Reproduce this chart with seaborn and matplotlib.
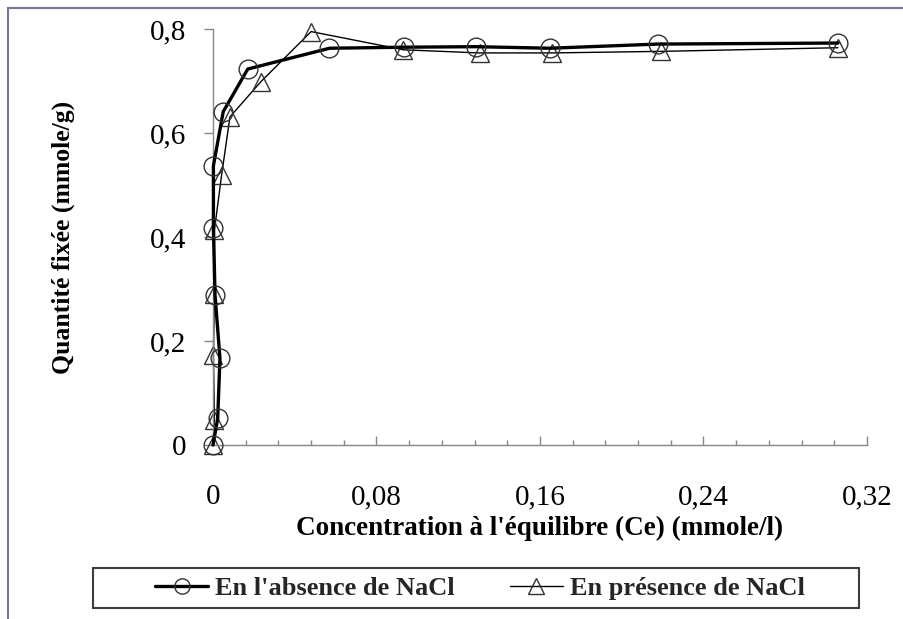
import matplotlib
matplotlib.use("Agg")
import matplotlib.pyplot as plt
from matplotlib.patches import Rectangle
from matplotlib.ticker import FixedLocator, MultipleLocator
import seaborn as sns
import pandas as pd

# Adsorption isotherm data: equilibrium concentration (mmole/l) vs fixed amount (mmole/g)
ce_absence = [0.0, 0.0023, 0.0034, 0.0010, 0.0002, 0.0002, 0.0050, 0.0170, 0.0570,
              0.0935, 0.1286, 0.1647, 0.2176, 0.3058]
q_absence = [0.0, 0.051, 0.167, 0.288, 0.417, 0.537, 0.641, 0.723, 0.763,
             0.765, 0.766, 0.763, 0.771, 0.773]

ce_presence = [0.0, 0.0007, 0.0002, 0.0007, 0.0007, 0.0042, 0.0083, 0.0235, 0.0480,
               0.0932, 0.1304, 0.1659, 0.2194, 0.3058]
q_presence = [0.0, 0.048, 0.173, 0.290, 0.413, 0.519, 0.631, 0.699, 0.795,
              0.760, 0.754, 0.754, 0.757, 0.764]

label_absence = "En l'absence de NaCl"
label_presence = "En présence de NaCl"

x_ticks = [0, 0.08, 0.16, 0.24, 0.32]
x_ticklabels = ["0", "0,08", "0,16", "0,24", "0,32"]
y_ticks = [0, 0.2, 0.4, 0.6, 0.8]
y_ticklabels = ["0", "0,2", "0,4", "0,6", "0,8"]

x_label = "Concentration à l'équilibre (Ce) (mmole/l)"
y_label = "Quantité fixée (mmole/g)"

sns.set_theme(style="white")
plt.rcParams["font.family"] = ["Liberation Serif", "DejaVu Serif"]

W, H = 904, 619
fig = plt.figure(figsize=(W / 100, H / 100), dpi=100)
fig.patch.set_facecolor("white")

# axes box in pixel terms: x 213..867, y 29..445
ax = fig.add_axes([213 / W, 1 - 445 / H, (867 - 213) / W, (445 - 29) / H])

df_abs = pd.DataFrame({"Ce": ce_absence, "Q": q_absence})
df_pre = pd.DataFrame({"Ce": ce_presence, "Q": q_presence})

# points are joined in measurement order, no aggregation of repeated x values
sns.lineplot(data=df_abs, x="Ce", y="Q", sort=False, estimator=None, ax=ax,
             color="black", linewidth=2.4, marker="o", markersize=13.5,
             markerfacecolor="none", markeredgecolor="#333333",
             markeredgewidth=1.0, zorder=3)
sns.lineplot(data=df_pre, x="Ce", y="Q", sort=False, estimator=None, ax=ax,
             color="black", linewidth=1.0, marker="^", markersize=13.5,
             markerfacecolor="none", markeredgecolor="#333333",
             markeredgewidth=1.0, zorder=2)
for ln in ax.lines:
    ln.set_clip_on(False)

ax.set_xlim(0, 0.32)
ax.set_ylim(0, 0.8)

grey = "#878787"
for side in ("top", "right"):
    ax.spines[side].set_visible(False)
for side in ("left", "bottom"):
    ax.spines[side].set_color(grey)
    ax.spines[side].set_linewidth(1.0)

ax.xaxis.set_major_locator(FixedLocator(x_ticks))
ax.set_xticklabels(x_ticklabels)
ax.xaxis.set_minor_locator(MultipleLocator(0.016))
ax.yaxis.set_major_locator(FixedLocator(y_ticks))
ax.set_yticklabels(y_ticklabels)

ax.tick_params(axis="x", which="major", direction="in", length=6.5, width=1,
               color=grey, pad=28, labelsize=21, bottom=True)
ax.tick_params(axis="x", which="minor", direction="in", length=3.6, width=1,
               color=grey, bottom=True)
ax.tick_params(axis="y", which="major", direction="out", length=6.5, width=1,
               color=grey, pad=13, labelsize=21, left=True)
for lab in ax.get_xticklabels() + ax.get_yticklabels():
    lab.set_color("black")

ax.set_xlabel(x_label, fontsize=19.5, fontweight="bold", color="black")
ax.set_ylabel(y_label, fontsize=18.5, fontweight="bold", color="black")
ax.xaxis.label.set_va("center")
ax.yaxis.label.set_va("center")
ax.xaxis.set_label_coords(0.5, -(528 - 445) / 416)
ax.yaxis.set_label_coords(-(213 - 63) / 654, 0.5)

# legend with a separate frame
h_abs = plt.Line2D([], [], color="black", linewidth=2.4, marker="o", markersize=11,
                   markerfacecolor="none", markeredgecolor="#333333", markeredgewidth=1.0)
h_pre = plt.Line2D([], [], color="black", linewidth=1.0, marker="^", markersize=11,
                   markerfacecolor="none", markeredgecolor="#333333", markeredgewidth=1.0)
fig.legend([h_abs, h_pre], [label_absence, label_presence], loc="center",
           bbox_to_anchor=(480 / W, 1 - 588 / H), ncol=2, frameon=False,
           prop={"weight": "bold", "size": 19}, handlelength=2.0,
           handletextpad=0.27, columnspacing=2.1, borderpad=0)
fig.patches.append(Rectangle((93 / W, 1 - 608 / H), (859 - 93) / W, 40 / H,
                             transform=fig.transFigure, fill=False,
                             edgecolor="#3c3c3c", linewidth=1.5))

# outer chart frame (left and top edges visible)
fig.patches.append(Rectangle((8 / W, -0.2), 2.0, (1 - 8 / H) + 0.2,
                             transform=fig.transFigure, fill=False,
                             edgecolor="#7d7394", linewidth=1.5))

fig.savefig("out.png", dpi=100, facecolor="white")
